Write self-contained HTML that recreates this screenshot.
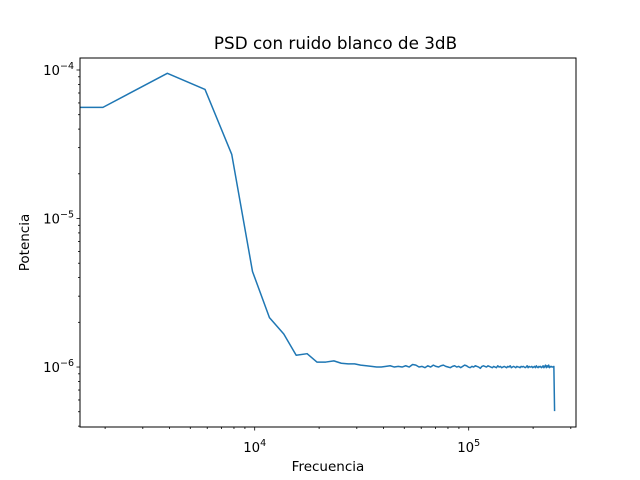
<!DOCTYPE html>
<html><head><meta charset="utf-8"><style>
body{margin:0;background:#fff}
svg{display:block;font-family:"DejaVu Sans","Liberation Sans",sans-serif}
</style></head><body>
<svg id="chart" width="640" height="480">
<rect x="0" y="0" width="640" height="480" fill="#fff"/>
<text x="335.5" y="49" font-size="16.8" text-anchor="middle">PSD con ruido blanco de 3dB</text>
<text x="328" y="471" font-size="13.5" text-anchor="middle">Frecuencia</text>
<text transform="translate(29,242.5) rotate(-90)" font-size="13.5" text-anchor="middle">Potencia</text>
<g id="ticks"></g>
<g id="plot"></g>
<rect x="80" y="58" width="496" height="369" fill="none" stroke="#000" stroke-width="1"/>
</svg>
<script>
const df = 1953.125;
const headValues = [5.6e-5, 9.5e-5, 7.4e-5, 2.7e-5, 4.4e-6, 2.15e-6, 1.67e-6, 1.2e-6, 1.23e-6, 1.08e-6, 1.08e-6, 1.1e-6];
const tailValues = [1.06,1.05,1.05,1.03,1.02,1.01,1.00,1.00,1.01,1.02,1.00,1.01,1.00,1.02,1.00,1.04,1.03,1.00,1.01,0.99,1.02,1.00,1.03,1.01,1.00,1.02,1.03,1.01,1.00,0.99,
 1.01,1.02,1.00,1.01,0.99,1.01,1.03,1.02,1.00,0.99,1.01,1.00,1.02,1.01,1.00,0.98,1.01,1.02,1.01,1.00,1.02,1.01,1.00,0.99,1.01,1.00,0.99,1.02,1.00,1.01,
 0.99,1.00,1.01,1.00,0.99,1.01,1.00,1.02,0.99,1.00,1.01,1.00,0.99,1.01,1.00,1.00,0.99,1.01,1.00,1.01,1.00,0.99,1.00,1.02,0.99,1.01,1.00,1.00,1.01,0.99,
 1.00,1.01,0.99,1.02,1.00,0.99,1.01,1.00,1.01,0.99,1.00,1.02,0.99,1.01,1.03,0.99,1.02,1.00,1.03,0.99,1.01,1.00,1.01,1.00,1.00,1.01,0.505];
const xTickLabels = ["4","5"];
const yTickLabels = ["\u22124","\u22125","\u22126"];

const X0=80,X1=576,Y0=58,Y1=427;
const xmin=4-174.7/214,xmax=xmin+496/214;
const ymax=-4+12/148.6,ymin=-6-60/148.6;
const sx=f=>X0+(Math.log10(f)-xmin)/(xmax-xmin)*(X1-X0);
const sy=v=>Y1-(Math.log10(v)-ymin)/(ymax-ymin)*(Y1-Y0);
const NS="http://www.w3.org/2000/svg";
const values = headValues.concat(tailValues.map(v=>v*1e-6));
let pts=[[X0, sy(values[0])]];
values.forEach((v,i)=>pts.push([sx(df*(i+1)), sy(v)]));
const plot=document.getElementById('plot');
const line=document.createElementNS(NS,'polyline');
line.setAttribute('points',pts.map(p=>p[0].toFixed(2)+','+p[1].toFixed(2)).join(' '));
line.setAttribute('fill','none');line.setAttribute('stroke','#1f77b4');line.setAttribute('stroke-width','1.5');
line.setAttribute('stroke-linejoin','round');


plot.appendChild(line);

const tg=document.getElementById('ticks');
function ln(x1,y1,x2,y2){const l=document.createElementNS(NS,'line');l.setAttribute('x1',x1);l.setAttribute('y1',y1);l.setAttribute('x2',x2);l.setAttribute('y2',y2);l.setAttribute('stroke','#000');l.setAttribute('stroke-width','0.8');tg.appendChild(l);return l;}
for(let e=3;e<=5;e++){for(let m=1;m<10;m++){const f=m*Math.pow(10,e);const x=sx(f);if(x<X0-0.5||x>X1+0.5)continue;
 if(m===1){const t=ln(x,Y1,x,Y1+3.5);
  
  
  const tx=document.createElementNS(NS,'text');tx.setAttribute('x',x);tx.setAttribute('y',Y1+25);tx.setAttribute('font-size','13.3');tx.setAttribute('text-anchor','middle');
  tx.innerHTML='10<tspan font-size="9.5" dy="-6">'+xTickLabels[e-4]+'</tspan>';
  
  
  tg.appendChild(tx);}
 else ln(x,Y1,x,Y1+2);}}
for(let e=-7;e<=-4;e++){for(let m=1;m<10;m++){const v=m*Math.pow(10,e);const y=sy(v);if(y<Y0-0.5||y>Y1+0.5)continue;
 if(m===1){const t=ln(X0-3.5,y,X0,y);
  
  
  const tx=document.createElementNS(NS,'text');tx.setAttribute('x',X0-6);tx.setAttribute('y',y+5);tx.setAttribute('font-size','13.3');tx.setAttribute('text-anchor','end');
  tx.innerHTML='10<tspan font-size="9.5" dy="-6">'+yTickLabels[-4-e]+'</tspan>';
  
  
  tg.appendChild(tx);}
 else ln(X0-2,y,X0,y);}}
</script>
</body></html>
